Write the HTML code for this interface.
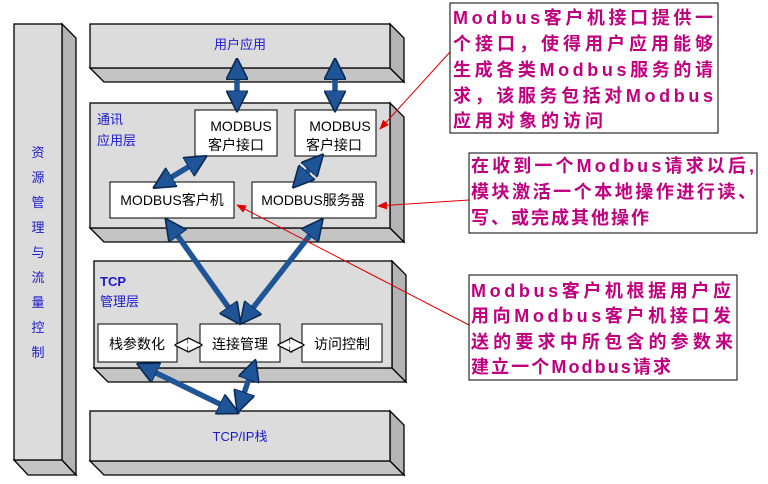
<!DOCTYPE html>
<html><head><meta charset="utf-8"><style>
html,body{margin:0;padding:0;background:#fff;}
svg{display:block;}
text{font-family:"Liberation Sans","Noto Sans CJK SC",sans-serif;}
.bl{fill:#1a1acc;font-size:13px;}
.bk{fill:#000;font-size:14px;}
.mg{fill:#c0007f;font-size:18px;font-weight:bold;}
</style></head><body>
<svg width="768" height="484" viewBox="0 0 768 484" xmlns="http://www.w3.org/2000/svg">
<defs>
<marker id="bh" markerWidth="4" markerHeight="4" refX="2.5" refY="2" orient="auto-start-reverse" markerUnits="strokeWidth">
<path d="M0,0 L4,2 L0,4 z" fill="#1f5597" stroke="#0b2a55" stroke-width="0.3"/></marker>
<marker id="rh" markerWidth="10" markerHeight="8" refX="9" refY="4" orient="auto" markerUnits="userSpaceOnUse">
<path d="M0,0 L10,4 L0,8 z" fill="#e00000"/></marker>
<marker id="wh" markerWidth="3" markerHeight="3" refX="1.5" refY="1.5" orient="auto-start-reverse" markerUnits="strokeWidth">
<path d="M0,0 L3,1.5 L0,3 z" fill="#fff" stroke="#000" stroke-width="0.25"/></marker>
</defs>
<g stroke="#000" stroke-width="1.3">
<polygon points="14,460 62,460 76,475 28,475" fill="#c4c4c4"/>
<polygon points="62,24 76,38 76,475 62,460" fill="#b4b4b4"/>
<rect x="14" y="24" width="48" height="436" fill="#dcdcdc"/>
<polygon points="90,68 390,68 404,82 104,82" fill="#c4c4c4"/>
<polygon points="390,24 404,38 404,82 390,68" fill="#b4b4b4"/>
<rect x="90" y="24" width="300" height="44" fill="#dcdcdc"/>
<polygon points="90,228 390,228 404,242 104,242" fill="#c4c4c4"/>
<polygon points="390,103 404,117 404,242 390,228" fill="#b4b4b4"/>
<rect x="90" y="103" width="300" height="125" fill="#dcdcdc"/>
<polygon points="94,368 392,368 406,382 108,382" fill="#c4c4c4"/>
<polygon points="392,261 406,275 406,382 392,368" fill="#b4b4b4"/>
<rect x="94" y="261" width="298" height="107" fill="#dcdcdc"/>
<polygon points="90,461 390,461 404,475 104,475" fill="#c4c4c4"/>
<polygon points="390,411 404,425 404,475 390,461" fill="#b4b4b4"/>
<rect x="90" y="411" width="300" height="50" fill="#dcdcdc"/>
</g>
<g stroke="#000" stroke-width="1" fill="#fff">
<rect x="195" y="110" width="82" height="46"/>
<rect x="295" y="110" width="81" height="46"/>
<rect x="110" y="182" width="124" height="36"/>
<rect x="252" y="182" width="124" height="36"/>
<rect x="98" y="324" width="79" height="38"/>
<rect x="200" y="324" width="80" height="38"/>
<rect x="302" y="324" width="80" height="38"/>
</g>
<g stroke="#000" stroke-width="5">
<line x1="182" y1="345" x2="195" y2="345" marker-start="url(#wh)" marker-end="url(#wh)"/>
<line x1="285" y1="345" x2="297" y2="345" marker-start="url(#wh)" marker-end="url(#wh)"/>
</g>
<g stroke="#fff" stroke-width="3">
<line x1="184" y1="345" x2="193" y2="345"/><line x1="287" y1="345" x2="295" y2="345"/>
</g>
<g stroke="#1f5597" stroke-width="5.5" fill="none">
<line x1="237" y1="66" x2="237" y2="104" marker-start="url(#bh)" marker-end="url(#bh)"/>
<line x1="335" y1="66" x2="335" y2="104" marker-start="url(#bh)" marker-end="url(#bh)"/>
<line x1="200" y1="160" x2="160" y2="184" marker-start="url(#bh)" marker-end="url(#bh)"/>
<line x1="318" y1="160" x2="298" y2="182" marker-start="url(#bh)" marker-end="url(#bh)"/>
<line x1="170" y1="225" x2="236" y2="318" marker-start="url(#bh)" marker-end="url(#bh)"/>
<line x1="318" y1="225" x2="245" y2="318" marker-start="url(#bh)" marker-end="url(#bh)"/>
<line x1="144" y1="367" x2="232" y2="410" marker-start="url(#bh)" marker-end="url(#bh)"/>
<line x1="253" y1="367" x2="240" y2="405" marker-start="url(#bh)" marker-end="url(#bh)"/>
</g>
<g stroke="#e00000" stroke-width="1" fill="none">
<line x1="450" y1="52" x2="380" y2="129" marker-end="url(#rh)"/>
<line x1="469" y1="200" x2="378" y2="206" marker-end="url(#rh)"/>
<line x1="469" y1="325" x2="237" y2="205" marker-end="url(#rh)"/>
</g>
<text class="bl" x="240" y="49" text-anchor="middle">用户应用</text>
<text class="bl" x="97" y="124">通讯</text>
<text class="bl" x="97" y="145">应用层</text>
<text class="bl" x="100" y="286" font-weight="bold" font-size="14">TCP</text>
<text class="bl" x="100" y="306">管理层</text>
<text class="bl" x="240" y="441" text-anchor="middle">TCP/IP栈</text>
<g class="bl" text-anchor="middle" font-size="14">
<text x="38" y="157">资</text><text x="38" y="182">源</text><text x="38" y="207">管</text><text x="38" y="232">理</text><text x="38" y="257">与</text><text x="38" y="282">流</text><text x="38" y="307">量</text><text x="38" y="332">控</text><text x="38" y="357">制</text>
</g>
<g class="bk" font-size="13">
<text x="241" y="131" text-anchor="middle">MODBUS</text>
<text x="236" y="150" text-anchor="middle">客户接口</text>
<text x="340" y="131" text-anchor="middle">MODBUS</text>
<text x="334" y="150" text-anchor="middle">客户接口</text>
<text x="172" y="205" text-anchor="middle">MODBUS客户机</text>
<text x="313" y="205" text-anchor="middle">MODBUS服务器</text>
<text x="137" y="349" text-anchor="middle" font-size="14">栈参数化</text>
<text x="240" y="349" text-anchor="middle" font-size="14">连接管理</text>
<text x="342" y="349" text-anchor="middle" font-size="14">访问控制</text>
</g>
<g stroke="#000" stroke-width="1" fill="#fff">
<rect x="450" y="3" width="268" height="130"/>
<rect x="469" y="153" width="288" height="80"/>
<rect x="469" y="275" width="268" height="105"/>
</g>
<g class="mg" lengthAdjust="spacing">
<text x="453" y="24" textLength="260" lengthAdjust="spacing">Modbus客户机接口提供一</text>
<text x="453" y="50" textLength="260" lengthAdjust="spacing">个接口，使得用户应用能够</text>
<text x="453" y="76" textLength="260" lengthAdjust="spacing">生成各类Modbus服务的请</text>
<text x="453" y="102" textLength="260" lengthAdjust="spacing">求，该服务包括对Modbus</text>
<text x="453" y="127" textLength="150" lengthAdjust="spacing">应用对象的访问</text>
<text x="471" y="172" textLength="283" lengthAdjust="spacing">在收到一个Modbus请求以后,</text>
<text x="471" y="198" textLength="285" lengthAdjust="spacing">模块激活一个本地操作进行读、</text>
<text x="471" y="224" textLength="178" lengthAdjust="spacing">写、或完成其他操作</text>
<text x="471" y="297" textLength="260" lengthAdjust="spacing">Modbus客户机根据用户应</text>
<text x="471" y="322" textLength="260" lengthAdjust="spacing">用向Modbus客户机接口发</text>
<text x="471" y="348" textLength="262" lengthAdjust="spacing">送的要求中所包含的参数来</text>
<text x="471" y="373" textLength="200" lengthAdjust="spacing">建立一个Modbus请求</text>
</g>
</svg>
</body></html>
